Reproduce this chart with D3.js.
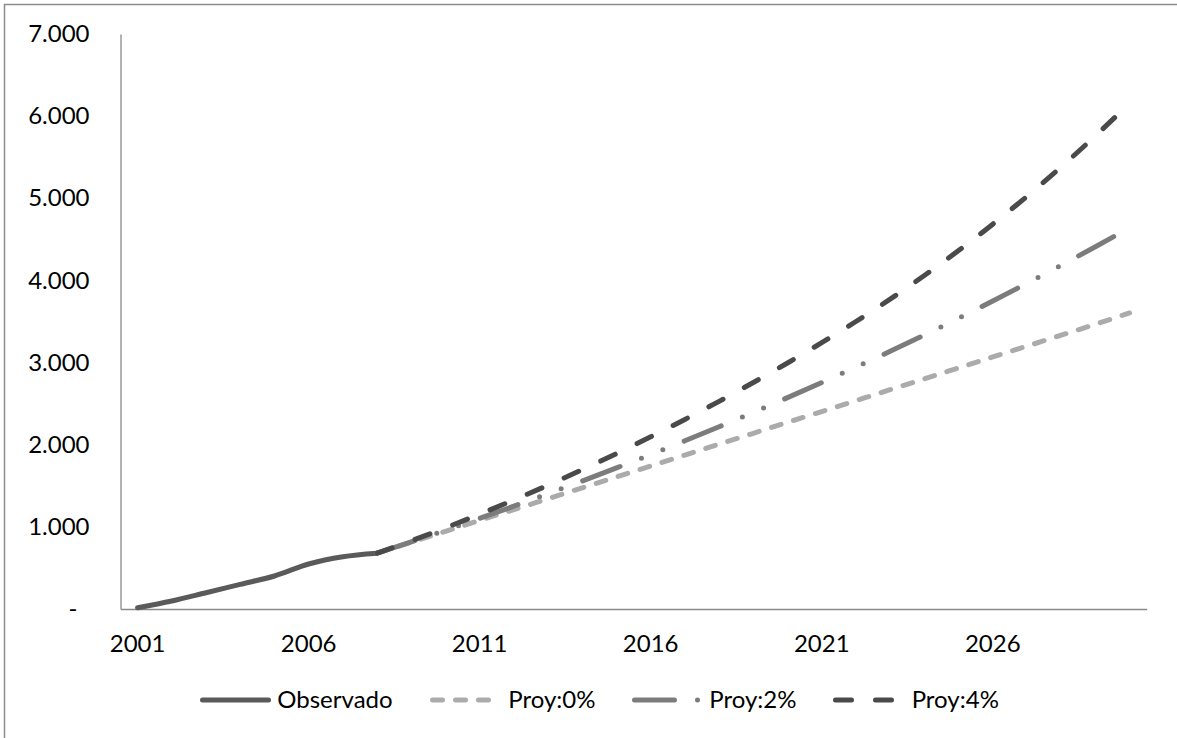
<!DOCTYPE html>
<html>
<head>
<meta charset="utf-8">
<script src="https://cdn.jsdelivr.net/npm/d3@7/dist/d3.min.js"></script>
<style>
  html, body { margin: 0; padding: 0; background: #ffffff; }
  svg { display: block; }
  text { font-family: Lato, "Noto Sans", sans-serif; fill: #000; }
</style>
</head>
<body>
<svg id="chart" width="1177" height="738"></svg>
<script>
// Years on the category axis
const years = d3.range(2001, 2031);

// Observed series (2001-2008)
const observado = [15, 97, 198, 300, 402, 548, 637, 680];

// Projections, 2008-2030
const projYears = d3.range(2008, 2031);
const proy0 = [680, 812, 945, 1078, 1210, 1343, 1476, 1608, 1741, 1874, 2006, 2139,
               2272, 2404, 2537, 2670, 2802, 2935, 3068, 3200, 3333, 3466, 3604];
const proy2 = [680, 818, 959, 1104, 1252, 1404, 1559, 1718, 1881, 2048, 2219, 2394,
               2573, 2757, 2945, 3137, 3336, 3540, 3750, 3965, 4185, 4410, 4640];
const proy4 = [680, 830, 988, 1155, 1328, 1508, 1696, 1892, 2096, 2308, 2528, 2757,
               2995, 3242, 3500, 3772, 4060, 4364, 4685, 5024, 5382, 5760, 6158];

// Axis ticks
const yTickValues = [0, 1000, 2000, 3000, 4000, 5000, 6000, 7000];
const yTickLabels = ["-", "1.000", "2.000", "3.000", "4.000", "5.000", "6.000", "7.000"];
const xTickYears = [2001, 2006, 2011, 2016, 2021, 2026];

const seriesNames = ["Observado", "Proy:0%", "Proy:2%", "Proy:4%"];

const FONT = "Lato, 'Noto Sans', sans-serif";
const FS = 24;

const svg = d3.select("#chart");

// Outer chart frame
svg.append("rect")
  .attr("x", 4.5).attr("y", 4.5)
  .attr("width", 1200).attr("height", 800)
  .attr("fill", "none")
  .attr("stroke", "#8c8c8c")
  .attr("stroke-width", 1.5);

const x = d3.scaleBand().domain(years).range([120.5, 1146.7]).padding(0);
const xc = yr => x(yr) + x.bandwidth() / 2;
const y = d3.scaleLinear().domain([0, 7000]).range([609, 34]);

// Y axis
const yAxis = d3.axisLeft(y)
  .tickValues(yTickValues)
  .tickSize(0)
  .tickPadding(31)
  .tickFormat((d, i) => yTickLabels[i]);
const gy = svg.append("g").attr("transform", "translate(120.5,0)").call(yAxis);
gy.select(".domain").attr("stroke", "#8a8a8a").attr("stroke-width", 1.3);
gy.selectAll(".tick text")
  .attr("font-size", FS)
  .attr("font-family", FONT)
  .attr("fill", "#000")
  .attr("dx", d => d === 0 ? -12 : 0);

// X axis
const xAxis = d3.axisBottom(x)
  .tickValues(xTickYears)
  .tickSize(0)
  .tickPadding(26);
const gx = svg.append("g").attr("transform", "translate(0,609)").call(xAxis);
gx.select(".domain").attr("stroke", "#8a8a8a").attr("stroke-width", 1.3);
gx.selectAll(".tick text")
  .attr("font-size", FS)
  .attr("font-family", FONT)
  .attr("fill", "#000");

// Line styles
const styles = [
  { color: "#5a5a5a", dash: null },
  { color: "#ababab", dash: "10,13" },
  { color: "#7c7c7c", dash: "40,23,0,23,0,23" },
  { color: "#4a4a4a", dash: "16,24" }
];

const line = d3.line()
  .x(d => xc(d[0]))
  .y(d => y(d[1]))
  .curve(d3.curveMonotoneX);

const seriesData = [
  d3.zip(years.slice(0, observado.length), observado),
  d3.zip(projYears, proy0),
  d3.zip(projYears, proy2),
  d3.zip(projYears, proy4)
];

const paths = svg.append("g").selectAll("path")
  .data(seriesData)
  .join("path")
  .attr("d", line)
  .attr("fill", "none")
  .attr("stroke", (d, i) => styles[i].color)
  .attr("stroke-width", 5)
  .attr("stroke-linecap", "round")
  .attr("stroke-linejoin", "round")
  .attr("stroke-dasharray", (d, i) => styles[i].dash);

// Stretch the long-dash gap slightly so the last dash of the 4% line
// finishes a little before the line's end, leaving the tail in a gap.
(function () {
  const node = paths.nodes()[3];
  const total = node.getTotalLength();
  const targetX = 1114.7;
  let lo = 0, hi = total;
  for (let k = 0; k < 40; k++) {
    const mid = (lo + hi) / 2;
    if (node.getPointAtLength(mid).x < targetX) lo = mid; else hi = mid;
  }
  const dash = 16;
  const n = Math.round((lo - dash) / 40);
  const gap = (lo - dash) / n - dash;
  d3.select(node).attr("stroke-dasharray", `${dash},${gap}`);
})();

// Legend
const legendX = [202.5, 432.5, 634.5, 835.5];
const legendY = 700;
const lg = svg.append("g").selectAll("g")
  .data(seriesNames)
  .join("g")
  .attr("transform", (d, i) => `translate(${legendX[i]},${legendY})`);

lg.append("line")
  .attr("x1", 0).attr("x2", (d, i) => i === 0 ? 66 : 68)
  .attr("y1", 0).attr("y2", 0)
  .attr("stroke", (d, i) => styles[i].color)
  .attr("stroke-width", 5)
  .attr("stroke-linecap", "round")
  .attr("stroke-dasharray", (d, i) => styles[i].dash);

lg.append("text")
  .attr("x", (d, i) => [74.8, 75.8, 74.8, 76.2][i])
  .attr("y", 0)
  .attr("dy", "0.35em")
  .attr("font-size", FS)
  .text(d => d);
</script>
</body>
</html>
